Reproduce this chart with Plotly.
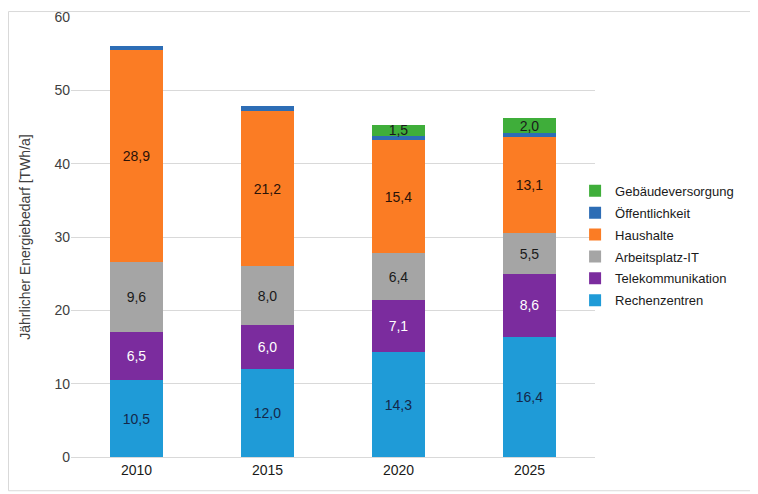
import plotly.graph_objects as go

years = ["2010", "2015", "2020", "2025"]
rechenzentren = [10.5, 12.0, 14.3, 16.4]
telekommunikation = [6.5, 6.0, 7.1, 8.6]
arbeitsplatz_it = [9.6, 8.0, 6.4, 5.5]
haushalte = [28.9, 21.2, 15.4, 13.1]
oeffentlichkeit = [0.5, 0.6, 0.6, 0.6]
gebaeude = [None, None, 1.5, 2.0]

series = [
    ("Rechenzentren", rechenzentren, "#1f9bd7", "#14284a", True),
    ("Telekommunikation", telekommunikation, "#7b2c9e", "white", True),
    ("Arbeitsplatz-IT", arbeitsplatz_it, "#a5a5a5", "#1a1a1a", True),
    ("Haushalte", haushalte, "#fb7c24", "#2a1208", True),
    ("Öffentlichkeit", oeffentlichkeit, "#2d6db5", "#1a1a1a", False),
    ("Gebäudeversorgung", gebaeude, "#3fae3a", "#1a1a1a", True),
]

fig = go.Figure()
for i, (name, vals, color, txtcol, show_text) in enumerate(series):
    fig.add_trace(go.Bar(
        x=years, y=vals, name=name, legendgroup=name,
        legendrank=len(series) - i,  # legend lists top of stack first
        marker=dict(color=color, line=dict(width=0)),
        texttemplate="%{y:.1f}" if show_text else None,
        textposition="inside" if show_text else "none",
        insidetextanchor="middle",
        textangle=0,
        constraintext="none",
        textfont=dict(color=txtcol, size=14, family="Liberation Sans"),
    ))

# the page body has an 8px margin, so margins are shifted to compensate
fig.update_layout(
    barmode="stack",
    bargap=0.6,
    width=758, height=494,
    margin=dict(l=63, r=171, t=9, b=45, autoexpand=False),
    paper_bgcolor="white", plot_bgcolor="white",
    separators=",.",
    font=dict(family="Liberation Sans", size=13, color="#404040"),
    legend=dict(
        traceorder="grouped",
        x=0.962, y=0.48, yanchor="middle", xanchor="left",
        font=dict(size=13, color="#1a1a1a"),
        itemwidth=30, tracegroupgap=2,
        bgcolor="rgba(0,0,0,0)",
    ),
    showlegend=True,
)
fig.update_yaxes(
    range=[0, 60], dtick=10, showgrid=True, gridcolor="#d9d9d9",
    zeroline=False, ticks="", tickfont=dict(size=14, color="#404040"),
    ticklabeloverflow="allow", automargin=False,
    title=dict(text="Jährlicher Energiebedarf [TWh/a]",
               font=dict(size=14, color="#404040"), standoff=20),
)
fig.update_xaxes(
    showline=True, linecolor="#d9d9d9", ticks="", automargin=False,
    tickfont=dict(size=14, color="#1a1a1a"),
)
fig.add_shape(type="rect", xref="paper", yref="paper",
              x0=-0.1193, x1=1.3073, y0=-0.0767, y1=1.0124,
              line=dict(color="#d9d9d9", width=1))

fig.write_html("out.html")
